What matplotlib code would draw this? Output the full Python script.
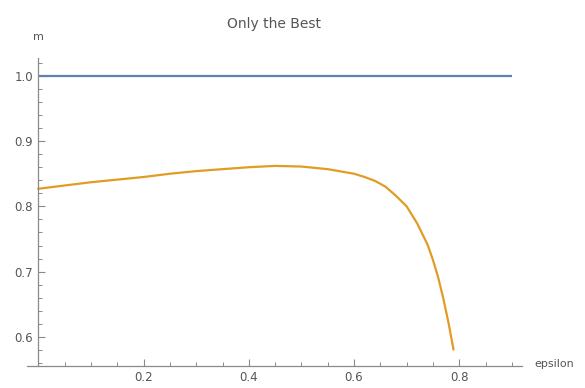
import matplotlib.pyplot as plt
from matplotlib.ticker import MultipleLocator

# values
eps_best = [0.0, 0.05, 0.1, 0.15, 0.2, 0.25, 0.3, 0.35, 0.4, 0.45, 0.5, 0.55,
            0.6, 0.62, 0.64, 0.66, 0.68, 0.70, 0.72, 0.74, 0.75, 0.76, 0.77, 0.78, 0.789]
m_best = [0.827, 0.832, 0.837, 0.841, 0.845, 0.850, 0.854, 0.857, 0.860, 0.862, 0.861, 0.857,
          0.850, 0.845, 0.839, 0.830, 0.816, 0.800, 0.774, 0.741, 0.718, 0.691, 0.658, 0.620, 0.581]
eps_ref = [0.0, 0.9]
m_ref = [1.0, 1.0]

fig = plt.figure(figsize=(5.85, 3.88), dpi=100)
ax = fig.add_axes([0.046, 0.057, 0.846, 0.793])

ax.plot(eps_ref, m_ref, color='#5E81B5', linewidth=1.6, solid_capstyle='butt')
ax.plot(eps_best, m_best, color='#E19C24', linewidth=1.6)

ax.set_xlim(-0.022, 0.919)
ax.set_ylim(0.5556, 1.027)

axis_col = '#8a8a8a'
for s in ['top', 'right']:
    ax.spines[s].set_visible(False)
ax.spines['left'].set_position(('data', 0))
for s in ['left', 'bottom']:
    ax.spines[s].set_color(axis_col)
    ax.spines[s].set_linewidth(0.9)

ax.xaxis.set_minor_locator(MultipleLocator(0.05))
ax.yaxis.set_minor_locator(MultipleLocator(0.02))
ax.set_xticks([0.2, 0.4, 0.6, 0.8])
ax.set_xticklabels(['0.2', '0.4', '0.6', '0.8'])
ax.set_yticks([0.6, 0.7, 0.8, 0.9, 1.0])
ax.set_yticklabels(['0.6', '0.7', '0.8', '0.9', '1.0'])

ax.tick_params(which='major', direction='in', length=5, width=0.8, color=axis_col,
               labelcolor='#555555', labelsize=8.5, pad=4)
ax.tick_params(which='minor', direction='in', length=3, width=0.7, color=axis_col)

ax.set_title('Only the Best', color='#555555', fontsize=10, pad=22)
ax.annotate('m', xy=(0, 1), xycoords=('data', 'axes fraction'), xytext=(0, 12),
            textcoords='offset points', ha='center', va='bottom', color='#555555', fontsize=8)
ax.annotate('epsilon', xy=(1, 0), xycoords='axes fraction', xytext=(9, 1),
            textcoords='offset points', ha='left', va='center', color='#555555', fontsize=8)

plt.savefig('out.png', dpi=100)
